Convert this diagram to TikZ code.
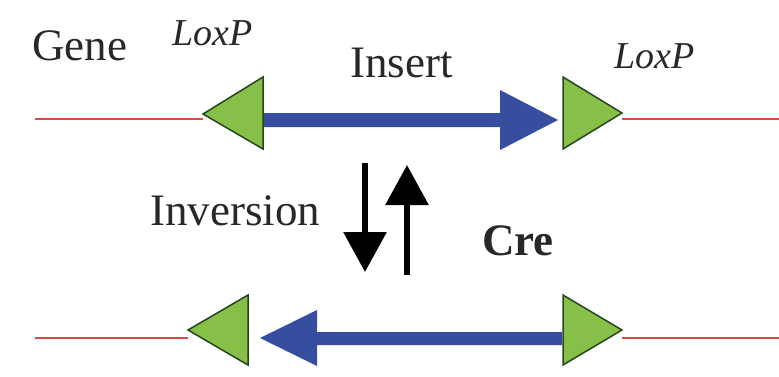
\documentclass[tikz,border=0pt]{standalone}
\usepackage{fontspec}
\setmainfont{Liberation Serif}
\usetikzlibrary{arrows.meta}
\definecolor{loxgreen}{RGB}{134,192,72}
\definecolor{loxedge}{RGB}{40,70,30}
\definecolor{insblue}{RGB}{55,78,160}
\definecolor{genered}{RGB}{218,72,72}
\definecolor{ink}{RGB}{40,40,40}
\tikzset{
  lbl/.style={inner sep=0pt, anchor=base west, text=ink, font=\fontsize{45}{50}\selectfont},
  loxlbl/.style={inner sep=0pt, anchor=base west, text=ink, font=\fontsize{38}{44}\selectfont\itshape},
  crelbl/.style={inner sep=0pt, anchor=base west, text=ink, font=\fontsize{45}{52}\selectfont\bfseries},
  dna/.style={draw=genered, line width=2pt},
  loxp/.style={fill=loxgreen, draw=loxedge, line width=1.5pt, line join=miter},
  insert/.style={fill=insblue, draw=none},
  flip/.style={draw=black, line width=6pt, -{Triangle[length=40pt,width=42pt]}},
}
\begin{document}
\begin{tikzpicture}[x=1pt,y=-1pt]
\useasboundingbox (0,0) rectangle (779,376);

% labels
\node[lbl] (gene) at (32,60) {Gene};
\node[lbl] (ins) at (350,77) {Insert};
\node[loxlbl] (lox1) at (172,45) {LoxP};
\node[loxlbl] (lox2) at (614,68) {LoxP};
\node[lbl] (inv) at (150,225) {Inversion};
\node[crelbl] (cre) at (482,255) {Cre};

% flanking gene DNA, top row
\coordinate (t0) at (35,119);
\coordinate (t1) at (203,119);
\coordinate (t2) at (622,119);
\coordinate (t3) at (779,119);
\draw[dna] (t0) -- (t1);
\draw[dna] (t2) -- (t3);

% flanking gene DNA, bottom row
\coordinate (b0) at (35,338);
\coordinate (b1) at (188,338);
\coordinate (b2) at (622,338);
\coordinate (b3) at (779,338);
\draw[dna] (b0) -- (b1);
\draw[dna] (b2) -- (b3);

% top row: insert in forward orientation
\fill[insert] (263,113) -- (500,113) -- (500,90) -- (558,120) -- (500,150) -- (500,127) -- (263,127) -- cycle;
\draw[loxp] (263,77) -- (263,149) -- (203,114) -- cycle;
\draw[loxp] (563,77) -- (563,149) -- (622,113) -- cycle;

% bottom row: insert inverted
\fill[insert] (562,332) -- (317,332) -- (317,310) -- (260,338) -- (317,366) -- (317,345) -- (562,345) -- cycle;
\draw[loxp] (248,295) -- (248,365) -- (188,330) -- cycle;
\draw[loxp] (563,295) -- (563,365) -- (622,330) -- cycle;

% reversible recombination arrows
\coordinate (d0) at (365,163);
\coordinate (d1) at (365,272);
\coordinate (u0) at (407,275);
\coordinate (u1) at (407,165);
\draw[flip] (d0) -- (d1);
\draw[flip] (u0) -- (u1);
\end{tikzpicture}
\end{document}
